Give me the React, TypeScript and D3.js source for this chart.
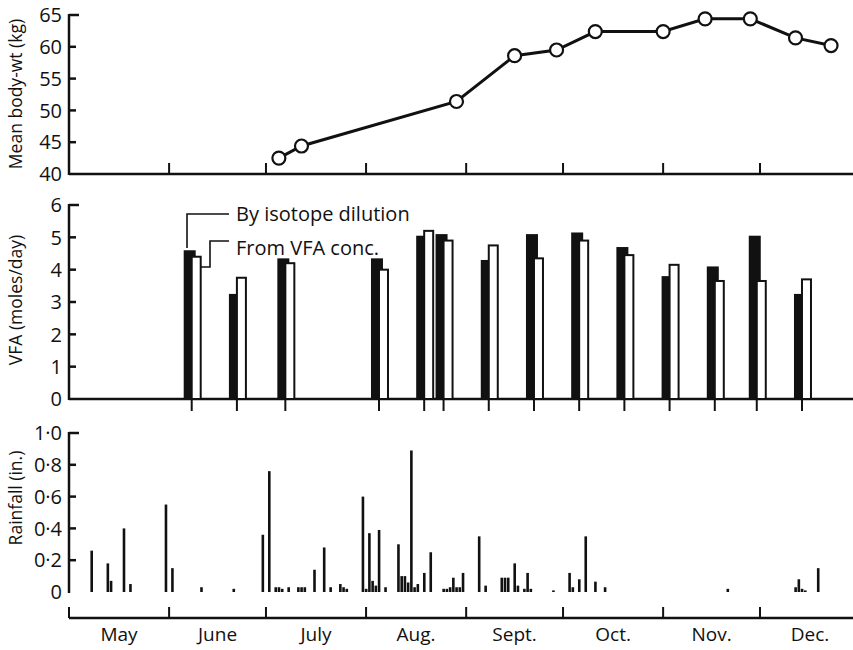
import React from "react";
import * as d3 from "d3";

// days counted from 1 May
const monthNames = ["May", "June", "July", "Aug.", "Sept.", "Oct.", "Nov.", "Dec."];

const weightDays = [65, 72, 120, 138, 151, 163, 184, 197, 211, 225, 236];
const weightKg = [42.5, 44.4, 51.4, 58.6, 59.5, 62.4, 62.4, 64.4, 64.4, 61.4, 60.2];
const weightTicks = [40, 45, 50, 55, 60, 65];

const vfaDays = [38, 52, 67, 96, 110, 116, 130, 144, 158, 172, 186, 200, 213, 227];
const vfaIsotope = [4.6, 3.25, 4.35, 4.35, 5.05, 5.1, 4.3, 5.1, 5.15, 4.7, 3.8, 4.1, 5.05, 3.25];
const vfaConc = [4.4, 3.75, 4.2, 4.0, 5.2, 4.9, 4.75, 4.35, 4.9, 4.45, 4.15, 3.65, 3.65, 3.7];
const vfaTicks = [0, 1, 2, 3, 4, 5, 6];

const rainDays = [
  7, 12, 13, 17, 19, 30, 32, 41, 51, 60, 62, 64, 65, 66, 68, 71, 72, 73, 76, 79,
  81, 84, 85, 86, 91, 92, 93, 94, 95, 96, 98, 102, 103, 104, 105, 106, 107, 108, 110, 112,
  116, 117, 118, 119, 120, 121, 122, 127, 129, 134, 135, 136, 138, 139, 141, 142, 143, 150, 155, 156,
  158, 160, 163, 166, 204, 225, 226, 227, 228, 232,
];
const rainInches = [
  0.26, 0.18, 0.07, 0.4, 0.05, 0.55, 0.15, 0.03, 0.02, 0.36, 0.76, 0.03, 0.03, 0.02, 0.03, 0.03, 0.03, 0.03, 0.14, 0.28,
  0.03, 0.05, 0.03, 0.02, 0.6, 0.02, 0.37, 0.07, 0.04, 0.39, 0.03, 0.3, 0.1, 0.1, 0.06, 0.89, 0.03, 0.05, 0.12, 0.25,
  0.02, 0.02, 0.03, 0.09, 0.03, 0.03, 0.12, 0.35, 0.04, 0.09, 0.09, 0.09, 0.18, 0.04, 0.02, 0.12, 0.02, 0.01, 0.12, 0.03,
  0.08, 0.35, 0.065, 0.03, 0.02, 0.03, 0.08, 0.02, 0.01, 0.15,
];
const rainTicks = [0, 0.2, 0.4, 0.6, 0.8, 1.0];

const W = 853, H = 650;
const INK = "#111";
const FONT = "'Open Sans', Lato, sans-serif";
const FS = 20;

const START = new Date(1950, 4, 1);
const day = (n: number) => d3.timeDay.offset(START, n);

export default function App() {
  const x = d3.scaleTime().domain([START, new Date(1950, 11, 1)]).range([69, 760]);
  const months = d3.timeMonth.range(START, new Date(1951, 0, 1));
  const axisLeft = 69, axisRight = W;

  const yW = d3.scaleLinear().domain([40, 65]).range([174, 15]);
  const yV = d3.scaleLinear().domain([0, 6]).range([399, 205]);
  const yR = d3.scaleLinear().domain([0, 1]).range([592, 433]);

  const line = d3.line<number>()
    .x((d, i) => x(day(weightDays[i])))
    .y(d => yW(d));

  const fmtRain = (v: number) => (v === 0 ? "0" : d3.format(".1f")(v).replace(".", "\u00b7"));

  const yAxis = (scale: d3.ScaleLinear<number, number>, ticks: number[], fmt: (v: number) => string, key: string) => {
    const [r0, r1] = scale.range();
    return (
      <g key={key}>
        <line x1={axisLeft} x2={axisLeft} y1={r1 - 1} y2={r0 + 1} stroke={INK} strokeWidth={2.5} />
        {ticks.map((t, i) => (
          <g key={i}>
            {t !== ticks[0] && (
              <line x1={axisLeft} x2={axisLeft + (i === ticks.length - 1 ? 10 : 7)} y1={scale(t)} y2={scale(t)} stroke={INK} strokeWidth={2.5} />
            )}
            <text x={62} y={scale(t)} dy="0.36em" textAnchor="end" fontSize={FS}>{fmt(t)}</text>
          </g>
        ))}
      </g>
    );
  };

  const yLabel = (txt: string, cx: number, cy: number) => (
    <text transform={`translate(${cx},${cy}) rotate(-90)`} textAnchor="middle" fontSize={17.5}>{txt}</text>
  );

  return (
    <svg width={W} height={H} style={{ position: "absolute", left: 0, top: 0, background: "#fff" }} fontFamily={FONT} fill={INK}>
      {/* top: body weight */}
      {yAxis(yW, weightTicks, d => String(d), "yw")}
      {yLabel("Mean body-wt (kg)", 22, 94)}
      <line x1={axisLeft} x2={axisRight} y1={174} y2={174} stroke={INK} strokeWidth={2.5} />
      {months.slice(1).map((m, i) => (
        <line key={i} x1={x(m)} x2={x(m)} y1={163} y2={174} stroke={INK} strokeWidth={2} />
      ))}
      <path d={line(weightKg) || ""} fill="none" stroke={INK} strokeWidth={3} />
      {weightKg.map((v, i) => (
        <circle key={i} cx={x(day(weightDays[i]))} cy={yW(v)} r={6.5} fill="#fff" stroke={INK} strokeWidth={2.2} />
      ))}

      {/* middle: VFA */}
      {yAxis(yV, vfaTicks, d => String(d), "yv")}
      {yLabel("VFA (moles/day)", 22, 300)}
      <line x1={axisLeft} x2={axisRight} y1={399} y2={399} stroke={INK} strokeWidth={2.5} />
      {vfaDays.map((dd, i) => {
        const cx = x(day(dd));
        return (
          <g key={i}>
            <line x1={cx} x2={cx} y1={399} y2={411} stroke={INK} strokeWidth={2} />
            <rect x={cx - 8} y={yV(vfaIsotope[i])} width={12} height={399 - yV(vfaIsotope[i])} fill={INK} />
            <rect x={cx} y={yV(vfaConc[i])} width={9} height={399 - yV(vfaConc[i])} fill="#fff" stroke={INK} strokeWidth={2} />
          </g>
        );
      })}
      <path d="M187,248V214H229" fill="none" stroke={INK} strokeWidth={1.6} />
      <path d="M201,267H210V241H229" fill="none" stroke={INK} strokeWidth={1.6} />
      <text x={236} y={214} dy="0.36em" fontSize={FS}>By isotope dilution</text>
      <text x={236} y={255} fontSize={FS}>From VFA conc.</text>

      {/* bottom: rainfall */}
      {yAxis(yR, rainTicks, fmtRain, "yr")}
      {yLabel("Rainfall (in.)", 22, 498)}
      {rainInches.map((v, i) => (
        <rect key={i} x={x(day(rainDays[i])) - 1.2} y={yR(v)} width={2.6} height={592 - yR(v)} fill={INK} />
      ))}
      <line x1={axisLeft} x2={axisRight} y1={618} y2={618} stroke={INK} strokeWidth={2.5} />
      {months.map((m, i) => (
        <line key={i} x1={x(m)} x2={x(m)} y1={607} y2={618} stroke={INK} strokeWidth={2} />
      ))}
      {months.map((m, i) => {
        const next = d3.timeMonth.offset(m, 1);
        const mid = (x(m) + x(next)) / 2;
        return (
          <text key={i} x={mid} y={641} textAnchor="middle" fontSize={FS - 1}>{monthNames[i]}</text>
        );
      })}
    </svg>
  );
}
